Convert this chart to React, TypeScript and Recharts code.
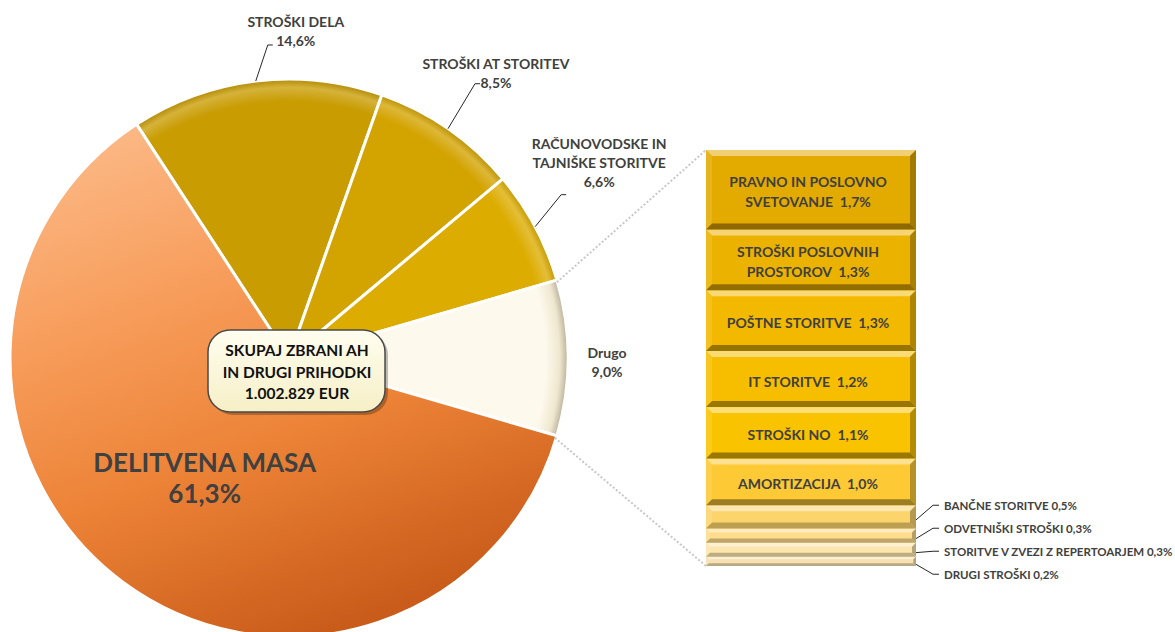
import React from 'react';
import { PieChart, Pie, Cell, BarChart, Bar, XAxis, YAxis, LabelList } from 'recharts';

// pie slices, clockwise from the top-left; "Drugo" is split out into the bar on the right
const pieLabelLines = [['STROŠKI DELA'], ['STROŠKI AT STORITEV'], ['RAČUNOVODSKE IN', 'TAJNIŠKE STORITVE'], ['Drugo'], ['DELITVENA MASA']];
const pieValues = [14.6, 8.5, 6.6, 9.0, 61.3];
const otherIndex = 3;

// breakdown of "Drugo", top to bottom
const barLabelLines = [
    ['PRAVNO IN POSLOVNO', 'SVETOVANJE'],
    ['STROŠKI POSLOVNIH', 'PROSTOROV'],
    ['POŠTNE STORITVE'],
    ['IT STORITVE'],
    ['STROŠKI NO'],
    ['AMORTIZACIJA'],
    ['BANČNE STORITVE'],
    ['ODVETNIŠKI STROŠKI'],
    ['STORITVE V ZVEZI Z REPERTOARJEM'],
    ['DRUGI STROŠKI'],
];
const barValues = [1.7, 1.3, 1.3, 1.2, 1.1, 1.0, 0.5, 0.3, 0.3, 0.2];
const insideCount = 6;

const totalLines = ['SKUPAJ ZBRANI AH', 'IN DRUGI PRIHODKI', '1.002.829 EUR'];

const W = 1175;
const H = 632;
const FONT = 'Lato, "Open Sans", sans-serif';
const TEXT = '#404040';

const PIE_CX = 289;
const PIE_CY = 358;
const PIE_R = 279;

const BAR_LEFT = 706;
const BAR_RIGHT = 916;
const BAR_TOP = 150;
const BAR_BOTTOM = 566;

const pieColors = ['#c99c02', '#d3a300', '#dcac00', '#fdf9ec'];
const barColors = ['#e3aa00', '#ecb200', '#f3b900', '#f7be00', '#fac300', '#fdc935', '#fcd46c', '#fddc8c', '#fde6ad', '#f7e0b2'];

// elbow of the leader line (from the slice edge) and text block offset (from the elbow end)
const leaderLayout: Record<number, { dx: number; dy: number; tx: number; ty: number }> = {
    0: { dx: 12, dy: -36, tx: 23, ty: -4 },
    1: { dx: 27, dy: -45, tx: 16, ty: -1 },
    2: { dx: 26, dy: -32, tx: 33, ty: -13 },
};

const RAD = Math.PI / 180;
const polar = (cx: number, cy: number, r: number, angle: number) => ({
    x: cx + r * Math.cos(-angle * RAD),
    y: cy + r * Math.sin(-angle * RAD),
});
const pct = (v: number) => v.toFixed(1).replace('.', ',') + '%';

const shade = (hex: string, amt: number) => {
    const n = parseInt(hex.slice(1), 16);
    const f = (c: number) => (amt >= 0 ? Math.round(c + (255 - c) * amt) : Math.round(c * (1 + amt)));
    return `rgb(${f(n >> 16)},${f((n >> 8) & 255)},${f(n & 255)})`;
};

const pieTotal = pieValues.reduce((a, b) => a + b, 0);
// like Excel's pie-of-bar: the split-out slice is centred on 3 o'clock
const pieStart = (360 * (pieValues.slice(0, otherIndex).reduce((a, b) => a + b, 0) + pieValues[otherIndex] / 2)) / pieTotal;
const pieData = pieValues.map((value, i) => ({ name: pieLabelLines[i].join(' '), value }));

const barTotal = barValues.reduce((a, b) => a + b, 0);
const barRow: Record<string, number | string> = { name: 'Drugo' };
barValues.forEach((v, i) => {
    barRow['s' + i] = v;
});
const barOrder = barValues.map((_, i) => i).reverse(); // first Bar sits at the bottom of the stack

const lines = (arr: string[], x: number, yLast: number, lh: number, size: number, color: string, anchor = 'middle') =>
    arr.map((t, k) => (
        <text
            key={k}
            x={x}
            y={yLast - (arr.length - 1 - k) * lh}
            textAnchor={anchor as any}
            dominantBaseline="central"
            fontFamily={FONT}
            fontWeight={700}
            fontSize={size}
            fill={color}
            style={{ whiteSpace: 'pre' }}
        >
            {t}
        </text>
    ));

const renderPieLabel = (props: any) => {
    const { cx, cy, outerRadius, midAngle, startAngle, endAngle, index } = props;
    const value = pieValues[index];

    if (leaderLayout[index]) {
        const l = leaderLayout[index];
        const p0 = polar(cx, cy, outerRadius, midAngle);
        const e = { x: p0.x + l.dx, y: p0.y + l.dy };
        const end = e.x + 5;
        return (
            <g key={index}>
                <polyline points={`${p0.x},${p0.y} ${e.x},${e.y} ${end},${e.y}`} fill="none" stroke="#262626" strokeWidth={1} />
                {lines([...pieLabelLines[index], pct(value)], end + l.tx, e.y + l.ty, 19, 14, TEXT)}
            </g>
        );
    }

    if (index === otherIndex) {
        const p = polar(cx, cy, outerRadius, midAngle);
        const a = polar(cx, cy, outerRadius, startAngle);
        const b = polar(cx, cy, outerRadius, endAngle);
        return (
            <g key={index}>
                <line x1={a.x} y1={a.y + 2} x2={BAR_LEFT} y2={BAR_TOP} stroke="#c8c8c8" strokeWidth={2} strokeDasharray="2 2" />
                <line x1={b.x - 2} y1={b.y + 2} x2={BAR_LEFT} y2={BAR_BOTTOM} stroke="#c8c8c8" strokeWidth={2} strokeDasharray="2 2" />
                {lines([...pieLabelLines[index], pct(value)], p.x + 39, p.y + 13, 19, 14, TEXT)}
            </g>
        );
    }

    // big inside label + the total box in the middle
    const p = polar(cx, cy, outerRadius * 0.55, midAngle);
    return (
        <g key={index}>
            {lines([...pieLabelLines[index], pct(value)], p.x + 7, p.y + 12, 31, 26, TEXT)}
            <rect x={cx - 78} y={cy - 25} width={177} height={82} rx={22} fill="#000" opacity={0.25} />
            <rect x={cx - 81} y={cy - 28} width={177} height={82} rx={22} fill="url(#boxFill)" stroke="#4a4a4a" strokeWidth={1.5} />
            {lines(totalLines, cx + 8, cy + 35, 21.5, 15.5, '#111')}
        </g>
    );
};

const BevelBar = (props: any) => {
    const { x, y, width: w, height: h, fill } = props;
    if (!h || h <= 0) return null;
    const b = Math.max(2, Math.min(6, h / 3.5));
    const pts = (a: number[][]) => a.map((q) => q.join(',')).join(' ');
    return (
        <g>
            <rect x={x} y={y} width={w} height={h} fill={fill} />
            <polygon points={pts([[x, y], [x + w, y], [x + w - b, y + b], [x + b, y + b]])} fill={shade(fill, 0.45)} />
            <polygon points={pts([[x, y], [x + b, y + b], [x + b, y + h - b], [x, y + h]])} fill={shade(fill, 0.12)} />
            <polygon points={pts([[x + w, y], [x + w, y + h], [x + w - b, y + h - b], [x + w - b, y + b]])} fill={shade(fill, -0.28)} />
            <polygon points={pts([[x, y + h], [x + w, y + h], [x + w - b, y + h - b], [x + b, y + h - b]])} fill={shade(fill, h < 30 ? -0.25 : -0.38)} />
        </g>
    );
};

const outsideTop =
    BAR_TOP + ((barValues.slice(0, insideCount).reduce((a, b) => a + b, 0) / barTotal) * (BAR_BOTTOM - BAR_TOP));

const renderBarLabel = (props: any, i: number) => {
    const vb = props.viewBox || props;
    const x = vb.x ?? props.x;
    const w = vb.width ?? props.width;
    const y0 = vb.y ?? props.y;
    const h0 = vb.height ?? props.height;
    const top = Math.min(y0, y0 + h0);
    const mid = top + Math.abs(h0) / 2;
    const lbl = barLabelLines[i];

    if (i < insideCount) {
        const arr = [...lbl.slice(0, -1), lbl[lbl.length - 1] + '  ' + pct(barValues[i])];
        const yLast = mid + 2 + ((arr.length - 1) * 20) / 2;
        return <g key={i}>{lines(arr, x + w / 2 - 3, yLast, 20, 14, TEXT)}</g>;
    }

    const j = i - insideCount;
    const ty = outsideTop + j * 23;
    const right = x + w;
    return (
        <g key={i}>
            <polyline points={`${right},${mid + 3} ${right + 17},${ty} ${right + 23},${ty}`} fill="none" stroke="#262626" strokeWidth={1} />
            {lines([lbl[0] + ' ' + pct(barValues[i])], right + 28, ty, 0, 11.5, TEXT, 'start')}
        </g>
    );
};

const App = () => {
    return (
        <div style={{ position: 'absolute', left: 0, top: 0, width: W, height: H, background: '#fff', overflow: 'hidden' }}>
            <div style={{ position: 'absolute', left: 0, top: 0 }}>
                <PieChart width={W} height={H} margin={{ top: 0, right: 0, bottom: 0, left: 0 }}>
                    <defs>
                        <linearGradient id="masaFill" x1="0.15" y1="0" x2="0.55" y2="1">
                            <stop offset="0%" stopColor="#fcba88" />
                            <stop offset="35%" stopColor="#f79c5a" />
                            <stop offset="65%" stopColor="#ec8236" />
                            <stop offset="100%" stopColor="#c95c1a" />
                        </linearGradient>
                        {pieColors.map((c, i) => (
                            <radialGradient key={i} id={'rim' + i} gradientUnits="userSpaceOnUse" cx={PIE_CX} cy={PIE_CY} r={PIE_R}>
                                <stop offset="0%" stopColor={c} />
                                <stop offset="92%" stopColor={c} />
                                <stop offset="97%" stopColor={i === otherIndex ? '#efe7cf' : shade(c, 0.22)} />
                                <stop offset="100%" stopColor={i === otherIndex ? '#b9b09a' : shade(c, -0.12)} />
                            </radialGradient>
                        ))}
                        <linearGradient id="boxFill" x1="0" y1="0" x2="0" y2="1">
                            <stop offset="0%" stopColor="#fffef0" />
                            <stop offset="100%" stopColor="#f6efc6" />
                        </linearGradient>
                    </defs>
                    <Pie
                        data={pieData}
                        dataKey="value"
                        cx={PIE_CX}
                        cy={PIE_CY}
                        outerRadius={PIE_R}
                        startAngle={pieStart}
                        endAngle={pieStart - 360}
                        stroke="#ffffff"
                        strokeWidth={3}
                        label={renderPieLabel}
                        labelLine={false}
                        isAnimationActive={false}
                    >
                        {pieData.map((_, i) => (
                            <Cell key={i} fill={i < pieColors.length ? `url(#rim${i})` : 'url(#masaFill)'} />
                        ))}
                    </Pie>
                </PieChart>
            </div>
            <div style={{ position: 'absolute', left: 0, top: 0 }}>
                <BarChart
                    width={W}
                    height={H}
                    data={[barRow]}
                    margin={{ top: BAR_TOP, bottom: H - BAR_BOTTOM, left: BAR_LEFT, right: W - BAR_RIGHT }}
                    barCategoryGap={0}
                >
                    <XAxis dataKey="name" hide />
                    <YAxis hide type="number" scale="linear" domain={[0, barTotal]} />
                    {barOrder.map((i) => (
                        <Bar
                            key={i}
                            dataKey={'s' + i}
                            stackId="drugo"
                            fill={barColors[i]}
                            shape={BevelBar}
                            isAnimationActive={false}
                        >
                            <LabelList dataKey={'s' + i} content={(p: any) => renderBarLabel(p, i)} />
                        </Bar>
                    ))}
                </BarChart>
            </div>
        </div>
    );
};

export default App;
